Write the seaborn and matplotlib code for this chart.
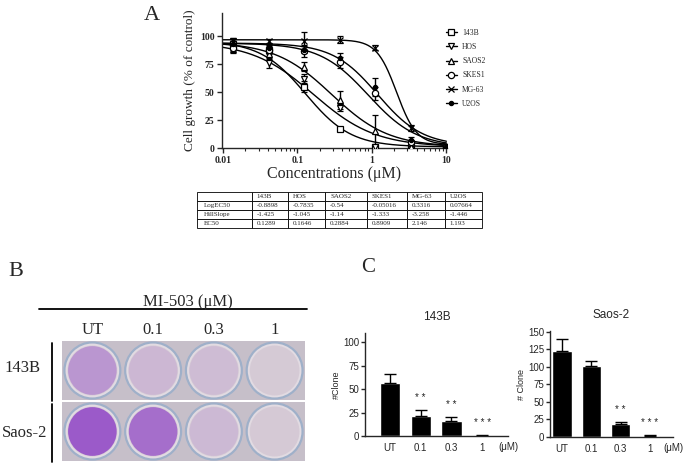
import numpy as np
import pandas as pd
import matplotlib
matplotlib.use('Agg')
import matplotlib.pyplot as plt
import seaborn as sns
from matplotlib.lines import Line2D
from matplotlib.patches import Circle, Rectangle

# Panel A data: MI-503 dose response
conc = [0.0137, 0.0412, 0.123, 0.370, 1.11, 3.33, 10.0]
cell_lines = ['143B', 'HOS', 'SAOS2', 'SKES1', 'MG-63', 'U2OS']
growth = {
    '143B':  [93, 88, 55, 17, 1, 1, 1],
    'HOS':   [90, 76, 62, 36, 1, 1, 1],
    'SAOS2': [92, 84, 73, 43, 15, 1, 1],
    'SKES1': [90, 88, 87, 77, 49, 5, 1],
    'MG-63': [96, 96, 96, 97, 90, 18, 2],
    'U2OS':  [93, 90, 88, 81, 55, 7, 1],
}
growth_err = {
    '143B':  [5, 3, 5, 2, 1, 1, 1],
    'HOS':   [4, 4, 4, 3, 1, 1, 1],
    'SAOS2': [6, 3, 4, 8, 15, 1, 1],
    'SKES1': [5, 4, 5, 5, 6, 2, 1],
    'MG-63': [3, 2, 8, 3, 2, 3, 1],
    'U2OS':  [6, 3, 3, 4, 8, 3, 1],
}
log_ec50 = [-0.8898, -0.7835, -0.54, -0.05016, 0.3316, 0.07664]
hill_slope = [-1.425, -1.045, -1.14, -1.333, -3.258, -1.446]
ec50 = [0.1289, 0.1646, 0.2884, 0.8909, 2.146, 1.193]
fit_top = [96, 95, 95, 94, 97, 94]
fit_bottom = [1, 1, 1, 1, 3, 2]
markers = ['s', 'v', '^', 'o', 'x', 'o']

# Panel C data: colony counts
doses = ['UT', '0.1', '0.3', '1']
clone_143b = [57, 21, 16, 0.5]
clone_143b_err = [9, 7, 4, 0.3]
clone_saos2 = [122, 101, 19, 1.5]
clone_saos2_err = [17, 7, 2, 1]
stars_143b = ['', '* *', '* *', '* * *']
stars_saos2 = ['', '', '* *', '* * *']

W, H = 685, 467


def box(l, t, r, b):
    return [l / W, 1 - b / H, (r - l) / W, (b - t) / H]


sns.set_style('ticks')
serif = ['Liberation Serif', 'DejaVu Serif']
sans = ['Liberation Sans', 'DejaVu Sans']
plt.rcParams['font.family'] = serif
plt.rcParams['axes.linewidth'] = 1.0

fig = plt.figure(figsize=(W / 100, H / 100), dpi=100)

# overlay for panel letters and panel B text (pixel coordinates)
ov = fig.add_axes([0, 0, 1, 1], zorder=-1)
ov.set_xlim(0, W)
ov.set_ylim(H, 0)
ov.axis('off')

# ---------------- Panel A ----------------
axA = fig.add_axes(box(222, 13, 447, 148))
xs = np.logspace(-2, 1, 300)
fit_rows = []
for i, name in enumerate(cell_lines):
    ys = fit_bottom[i] + (fit_top[i] - fit_bottom[i]) / (
        1 + 10 ** ((log_ec50[i] - np.log10(xs)) * hill_slope[i]))
    fit_rows.append(pd.DataFrame({'conc': xs, 'growth': ys, 'line': name}))
fit_df = pd.concat(fit_rows)
sns.lineplot(data=fit_df, x='conc', y='growth', hue='line',
             palette={n: 'black' for n in cell_lines}, legend=False,
             linewidth=1.0, ax=axA)

handles = []
for i, name in enumerate(cell_lines):
    filled = name == 'U2OS'
    ms = 3 if filled else 4.5
    axA.errorbar(conc, growth[name], yerr=growth_err[name], fmt=markers[i],
                 ms=ms, mfc='black' if filled else 'white', mec='black',
                 mew=0.9, ecolor='black', elinewidth=1.0, capsize=2.5,
                 capthick=1.0, zorder=3)
    handles.append(Line2D([], [], color='black', lw=1.0, marker=markers[i],
                          ms=ms, mfc='black' if filled else 'white',
                          mec='black', mew=0.9))

axA.set_xscale('log')
axA.set_xlim(0.0097, 10.2)
axA.set_ylim(0, 121)
axA.set_yticks([0, 25, 50, 75, 100])
axA.set_xticks([0.01, 0.1, 1, 10])
axA.set_xticklabels(['0.01', '0.1', '1', '10'])
sns.despine(ax=axA)
axA.tick_params(axis='both', which='major', direction='out', length=3.5,
                width=1.0, labelsize=7, pad=2)
axA.tick_params(axis='x', which='minor', direction='out', length=2, width=0.8)
for lab in axA.get_xticklabels() + axA.get_yticklabels():
    lab.set_fontweight('bold')
axA.set_xlabel('Concentrations (μM)', fontsize=11.5, labelpad=1)
axA.set_ylabel('Cell growth (% of control)', fontsize=9.5, labelpad=3)

fig.legend(handles, cell_lines, loc='upper left',
           bbox_to_anchor=(443 / W, 1 - 26 / H), frameon=False,
           fontsize=5.5, handlelength=1.4, handletextpad=0.7,
           labelspacing=0.8, borderaxespad=0)

# table under panel A
axT = fig.add_axes(box(197, 192, 482, 228))
axT.axis('off')
table_rows = [[''] + cell_lines,
              ['LogEC50'] + [str(v) for v in log_ec50],
              ['HillSlope'] + [str(v) for v in hill_slope],
              ['EC50'] + [str(v) for v in ec50]]
col_w = np.array([55, 36, 37, 42, 40, 38, 37], dtype=float)
tab = axT.table(cellText=table_rows, cellLoc='left', bbox=[0, 0, 1, 1],
                colWidths=list(col_w / col_w.sum()))
tab.auto_set_font_size(False)
tab.set_fontsize(5)
for cell in tab.get_celld().values():
    cell.set_linewidth(0.6)
    cell.PAD = 0.12

ov.text(152, 16, 'A', fontsize=16, ha='center', va='center')

# ---------------- Panel B ----------------
ov.text(16, 272, 'B', fontsize=16, ha='center', va='center')
ov.text(188, 302, 'MI-503 (μM)', fontsize=12, ha='center', va='center')
ov.plot([39, 307], [309, 309], color='black', lw=1.3)
ov.plot([52, 52], [343, 401], color='black', lw=1.3)
ov.plot([52, 52], [404, 462], color='black', lw=1.3)
ov.text(22, 368, '143B', fontsize=12, ha='center', va='center')
ov.text(25, 433, 'Saos-2', fontsize=12, ha='center', va='center')

axB = fig.add_axes(box(62, 340, 305, 462))
axB.set_xlim(0, 4)
axB.set_ylim(2, 0)
axB.axis('off')
for j, d in enumerate(doses):
    axB.text(j + 0.5, -0.17, d, fontsize=12, ha='center', va='center')
for r, counts in enumerate([clone_143b, clone_saos2]):
    axB.add_patch(Rectangle((0, r + 0.02), 4, 0.96, fc='#c6bfc9', ec='none'))
    for j, n in enumerate(counts):
        cx, cy = j + 0.5, r + 0.5
        axB.add_patch(Circle((cx, cy), 0.46, fc='#e2dbe2', ec='#9fb0c9', lw=1.6))
        axB.add_patch(Circle((cx, cy), 0.41, fc='#d6cbd6', ec='none'))
        axB.add_patch(Circle((cx, cy), 0.40, fc='#8b3bc6', ec='none',
                             alpha=min(0.8, 0.8 * n / 125)))

# ---------------- Panel C ----------------
ov.text(368, 268, 'C', fontsize=15, ha='center', va='center')


def clone_panel(rect, vals, errs, stars, title, ylabel, ymax, yticks, xlim):
    ax = fig.add_axes(rect)
    df = pd.DataFrame({'dose': doses, 'clone': vals})
    sns.barplot(data=df, x='dose', y='clone', order=doses, color='black',
                saturation=1, width=0.66, errorbar=None, ax=ax)
    ax.errorbar(range(len(doses)), vals, yerr=[np.zeros(len(vals)), errs],
                fmt='none', ecolor='black', elinewidth=1.0, capsize=4,
                capthick=1.0)
    for i, s in enumerate(stars):
        if s:
            ax.annotate(s, xy=(i, vals[i] + errs[i]), xytext=(0, 5),
                        textcoords='offset points', ha='center', va='bottom',
                        fontsize=7, family=sans)
    ax.set_xlim(*xlim)
    ax.set_ylim(0, ymax)
    ax.set_yticks(yticks)
    sns.despine(ax=ax)
    ax.tick_params(axis='x', length=0, labelsize=7, pad=5)
    ax.tick_params(axis='y', length=3, width=1.0, labelsize=7, pad=1)
    for lab in ax.get_xticklabels() + ax.get_yticklabels():
        lab.set_family(sans)
    ax.set_xlabel('')
    ax.set_ylabel(ylabel, fontsize=6.5, family=sans, labelpad=2)
    ax.set_title(title, fontsize=8.5, family=sans, pad=9)
    ax.annotate('(μM)', xy=(1, 0), xycoords='axes fraction', xytext=(0, -8),
                textcoords='offset points', ha='center', va='center',
                fontsize=7, family=sans)
    return ax


clone_panel(box(365, 333, 508, 436), clone_143b, clone_143b_err, stars_143b,
            '143B', '#Clone', 110, [0, 25, 50, 75, 100], (-0.81, 3.84))
clone_panel(box(550, 331, 673, 437), clone_saos2, clone_saos2_err, stars_saos2,
            'Saos-2', '# Clone', 151, [0, 25, 50, 75, 100, 125, 150],
            (-0.41, 3.79))

fig.savefig('out.png', dpi=100)
